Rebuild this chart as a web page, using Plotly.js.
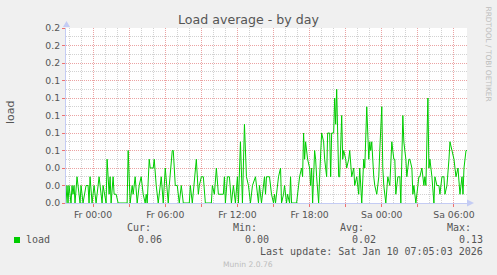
<!DOCTYPE html>
<html><head><meta charset="utf-8">
<script src="https://cdn.plot.ly/plotly-3.0.1.min.js"></script>
<style>html,body{margin:0;padding:0;background:#f0f0f0;overflow:hidden}#chart{width:497px;height:275px}</style>
</head><body><div id="chart"></div>
<script>
// ---- data ----
const startTime = '2026-01-08T21:45:00Z';   // left edge of graph
const slotMinutes = 5;                       // rrd step
const slots = [0,1,2,3,5,6,7,8,9,11,14,15,17,20,22,23,24,26,28,30,31,33,36,37,40,41,43,44,45,47,48,50,52,61,62,64,66,67,69,71,73,75,77,79,80,81,83,84,87,88,90,92,95,97,99,102,103,106,107,109,111,113,115,117,123,124,126,130,132,133,135,137,139,145,146,148,150,152,157,158,159,161,163,165,167,169,171,172,174,176,178,180,182,184,186,189,192,193,195,198,199,
200,203,204,205,207,208,209,212,214,215,217,218,220,221,223,224,225,230,232,233,235,236,237,238,239,241,243,244,245,246,248,249,250,252,253,255,257,258,260,261,263,264,265,267,268,269,270,271,272,273,275,276,277,279,280,282,283,285,287,288,290,292,293,295,297,298,300,302,303,304,305,307,308,310,312,313,315,316,317,319,321,323,324,325,327,328,329,331,333,334,336,337,339,340,342,343,345,346,347,349,351,352,353,355,357,358,359,361,362,363,365,367,368,370,372,373,375,377,378,380,382,383,385,387,388,389,391,392,393,395,396,397,399,400];
const load = [0,.02,0,.02,0,.02,.01,.02,0,.03,0,.02,0,.02,.02,0,.03,0,.02,0,.01,.03,0,.02,0,.05,.01,.03,0,.03,.01,.01,0,0,.06,0,.02,.01,.03,0,.02,.03,.01,0,.01,0,.05,.04,.04,.05,.02,0,.03,0,.04,0,.02,.06,.06,.02,.02,0,.02,0,0,.02,0,.05,.01,.02,.03,.03,0,0,.02,.01,.04,.01,.01,.03,0,.03,.03,0,.02,0,.03,0,.07,0,.09,.03,.02,0,.02,.03,0,.02,0,.03,.01,
.03,.03,.02,.01,0,.01,0,.03,.04,0,.01,.02,0,.01,0,.03,0,0,.02,.03,.04,.03,.08,.05,.07,.05,.04,.02,.04,0,.06,.05,.03,0,.03,.08,.07,.05,.03,.08,.08,.03,.08,.08,.12,.09,.13,.09,.03,.03,.10,.05,.06,.05,.04,.05,.06,.03,.04,.02,.03,.01,.04,0,.05,.04,.11,.05,.07,.06,.07,.03,.02,.01,.03,.06,.11,.04,.02,0,.03,.02,.05,.07,.05,.05,.01,.03,.03,0,.10,.07,.05,.03,.05,.05,.04,.01,.02,0,.02,.03,.03,.04,.02,.03,.02,.12,.04,.05,.03,0,.03,.02,.02,.01,.03,.03,.01,.02,.05,.07,.06,.05,.04,.03,.04,.02,.01,.03,.01,.04,.06,.06];
const tickTimes = ['2026-01-09 00:00','2026-01-09 03:00','2026-01-09 06:00','2026-01-09 09:00','2026-01-09 12:00','2026-01-09 15:00','2026-01-09 18:00','2026-01-09 21:00','2026-01-10 00:00','2026-01-10 03:00','2026-01-10 06:00'];
const tickLabels = ['Fr 00:00','','Fr 06:00','','Fr 12:00','','Fr 18:00','','Sa 00:00','','Sa 06:00'];
const statNames = ['Cur:','Min:','Avg:','Max:'];
const statValues = ['0.06','0.00','0.02','0.13'];
const seriesName = 'load';
const lastUpdate = 'Last update: Sat Jan 10 07:05:03 2026';

// ---- build ----
const t0 = Date.parse(startTime);
const fmt = ms => new Date(ms).toISOString().slice(0,19).replace('T',' ');
const xs = slots.map(s => fmt(t0 + s*slotMinutes*60000));
const xEnd = fmt(t0 + 400*slotMinutes*60000);

const W=497,H=275,L=66,R=30,T=28,B=72;
const PW=W-L-R, PH=H-T-B;
const px = x => (x-L)/PW, py = y => (H-B-y)/PH;

const green='#00cc00', txt='#555555', axc='#c4ccf4';
const mono='DejaVu Sans Mono, monospace', sans='DejaVu Sans, sans-serif';
const ann = (text,x,y,xa,opt={}) => Object.assign({text,x:px(x),y:py(y),xref:'paper',yref:'paper',xanchor:xa,yanchor:'middle',showarrow:false,borderpad:0,borderwidth:0,font:{family:mono,size:10,color:txt}},opt);

const annotations = [
  ann('load',10,112,'center',{textangle:-90,font:{family:sans,size:11,color:txt}}),
  ann(seriesName,26,239.7,'left'),
  ann(lastUpdate,483,251.7,'right'),
  ann('Munin 2.0.76',248,264,'center',{font:{family:sans,size:7.6,color:'#bdbdbd'}}),
  ann('RRDTOOL / TOBI OETIKER',488.5,54,'center',{textangle:90,font:{family:sans,size:7.4,color:'#bdbdbd'}})
];
const nameX=[127,233,340,447], valX=[162,269,376,483];
statNames.forEach((n,i)=>annotations.push(ann(n,nameX[i],227.7,'left')));
statValues.forEach((v,i)=>annotations.push(ann(v,valX[i],239.7,'right')));

const shapes = [
  {type:'rect',xref:'paper',yref:'paper',x0:px(14),x1:px(20),y0:py(243),y1:py(237),fillcolor:green,line:{width:0}},
  {type:'path',xref:'paper',yref:'paper',path:`M ${px(63)} ${py(27)} L ${px(70)} ${py(27)} L ${px(66.5)} ${py(21)} Z`,fillcolor:axc,line:{width:0}},
  {type:'path',xref:'paper',yref:'paper',path:`M ${px(467)} ${py(199.5)} L ${px(467)} ${py(206.5)} L ${px(474)} ${py(203)} Z`,fillcolor:axc,line:{width:0}}
];

const trace = {x:xs,y:load,type:'scatter',mode:'lines',line:{color:green,width:1},hoverinfo:'skip'};

const layout = {
  width:W,height:H,margin:{l:L,r:R,t:T,b:B,pad:0},
  paper_bgcolor:'#f0f0f0',plot_bgcolor:'#ffffff',showlegend:false,
  font:{family:sans,size:9.3,color:txt},
  title:{text:'Load average - by day',font:{family:sans,size:12.6,color:txt},x:0.5,xref:'container',xanchor:'center',y:1-20/H,yref:'container',yanchor:'middle'},
  xaxis:{type:'date',range:[fmt(t0),xEnd],tickmode:'array',tickvals:tickTimes,ticktext:tickLabels,
    showgrid:true,gridcolor:'#eba3a3',griddash:'1px,1px',gridwidth:1,
    ticks:'outside',ticklen:3,tickcolor:'#ee7070',tickwidth:1,
    showline:true,linecolor:axc,linewidth:1,zeroline:false,fixedrange:true,
    tickfont:{family:sans,size:9.3,color:txt},
    minor:{tickmode:'linear',tick0:'2026-01-09 00:00',dtick:3600000,showgrid:true,gridcolor:'#d2d2d2',griddash:'1px,1px',gridwidth:1,ticks:''}},
  yaxis:{range:[0,0.2],tickmode:'linear',tick0:0,dtick:0.02,tickformat:'.1f',
    showgrid:true,gridcolor:'#eba3a3',griddash:'1px,1px',gridwidth:1,
    ticks:'outside',ticklen:3,tickcolor:'#ee7070',tickwidth:1,
    showline:true,linecolor:axc,linewidth:1,zeroline:false,fixedrange:true,
    tickfont:{family:sans,size:9.3,color:txt},
    minor:{tickmode:'linear',tick0:0,dtick:0.01,showgrid:true,gridcolor:'#d2d2d2',griddash:'1px,1px',gridwidth:1,ticks:''}},
  annotations,shapes
};
Plotly.newPlot('chart',[trace],layout,{staticPlot:true,displayModeBar:false});
</script></body></html>
